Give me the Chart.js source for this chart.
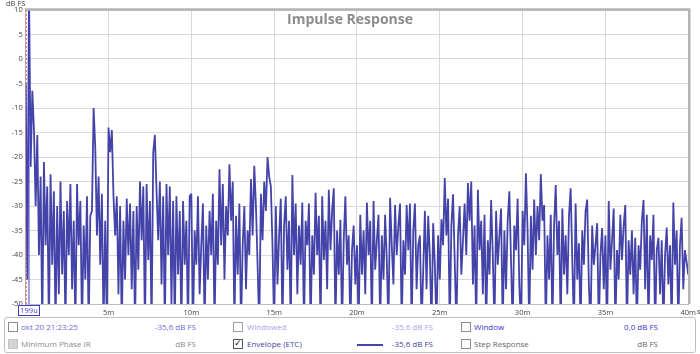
<!DOCTYPE html>
<html>
<head>
<meta charset="utf-8">
<script src="https://cdn.jsdelivr.net/npm/chart.js@4.4.1/dist/chart.umd.min.js"></script>
<style>
  html,body{margin:0;padding:0;background:#fff;}
  #wrap{position:relative;width:700px;height:354px;overflow:hidden;font-family:"Open Sans",sans-serif;}
  #c{position:absolute;left:0;top:0;}
  #panel{position:absolute;left:4px;top:317px;width:692px;height:36px;border:1px solid #bdbdbd;border-radius:3px;box-sizing:border-box;background:#fff;}
  .t{position:absolute;font-size:8px;line-height:10px;white-space:nowrap;}
  .cb{position:absolute;width:8px;height:8px;border:1px solid #8c8c8c;background:#fff;}
  .r{text-align:right;}
</style>
</head>
<body>
<div id="wrap">
<canvas id="c" width="700" height="354"></canvas>
<div id="panel">
  <div class="cb" style="left:3px;top:4px;"></div>
  <div class="t" style="left:16px;top:4px;color:#6b6bd6;">okt 20 21:23:25</div>
  <div class="t r" style="left:120px;width:71px;top:4px;color:#6b6bd6;">-35,6 dB FS</div>
  <div class="cb" style="left:228px;top:4px;border-color:#a0a0a0;"></div>
  <div class="t" style="left:242px;top:4px;color:#a4a4ea;">Windowed</div>
  <div class="t r" style="left:350px;width:78px;top:4px;color:#a4a4ea;">-35,6 dB FS</div>
  <div class="cb" style="left:456px;top:4px;"></div>
  <div class="t" style="left:469px;top:4px;color:#3434c8;">Window</div>
  <div class="t r" style="left:590px;width:63px;top:4px;color:#3434c8;">0,0 dB FS</div>

  <div class="cb" style="left:3px;top:21px;background:#d4d4d4;border-color:#c4c4c4;"></div>
  <div class="t" style="left:16px;top:21px;color:#8a8a8a;">Minimum Phase IR</div>
  <div class="t r" style="left:120px;width:71px;top:21px;color:#8a8a8a;">dB FS</div>
  <div class="cb" style="left:228px;top:21px;border-color:#555;"><span style="position:absolute;left:0px;top:-3px;font-size:9px;line-height:12px;color:#111;">✓</span></div>
  <div class="t" style="left:242px;top:21px;color:#4343a6;">Envelope (ETC)</div>
  <div style="position:absolute;left:352px;top:26px;width:26px;height:1.5px;background:#4444aa;"></div>
  <div class="t r" style="left:350px;width:78px;top:21px;color:#4343a6;">-35,6 dB FS</div>
  <div class="cb" style="left:456px;top:21px;"></div>
  <div class="t" style="left:469px;top:21px;color:#666;">Step Response</div>
  <div class="t r" style="left:590px;width:63px;top:21px;color:#666;">dB FS</div>
</div>
</div>
<script>
// Time axis (ms) and tick definitions
const timeStepMs = 0.1;
const xTicksMs = [0, 5, 10, 15, 20, 25, 30, 35, 40];
const yTicksDb = [10, 5, 0, -5, -10, -15, -20, -25, -30, -35, -40, -45, -50];
const cursorMs = 0.199;

// ETC envelope values (dB FS), 0.1 ms apart
const etc0to10 = [
  -5, -45, 14, -22, -6.5, -14.5, -30, -15.5, -40, -24, -55, -21, -38, -26, -55, -23.5, -42, -27, -55, -30,
  -48, -25, -44, -31, -55, -29, -40, -25.5, -47, -33, -55, -25.5, -38, -29, -55, -34, -45, -28, -55, -32,
  -31, -10, -18, -36, -24, -42, -27.5, -55, -33, -55, -14, -19, -14.5, -28, -36, -28, -48, -30, -55, -33,
  -45, -28.5, -40, -29.5, -47, -31, -55, -30, -43, -25, -37, -26, -55, -25.5, -41, -29, -55, -19, -15.5, -27,
  -37, -25, -46, -28, -55, -25.5, -40, -26, -50, -29, -55, -28, -44, -31, -55, -29, -42, -33, -55, -28
];
const etc10to20 = [
  -27.5, -55, -35, -42, -28, -48, -38, -29.5, -55, -34, -45, -31, -40, -27.5, -55, -33, -42, -22.5, -38, -25.5,
  -45, -30, -36, -21.5, -33, -25, -55, -32, -44, -29.5, -55, -38, -30, -47, -35, -40, -24.5, -36, -21.8, -30,
  -42, -55, -27.5, -37, -25, -31, -20, -24, -26, -38, -55, -30, -46, -36, -28.5, -55, -34, -28, -43, -33,
  -55, -23.7, -40, -29.5, -48, -34, -42, -29.3, -55, -33, -38, -29.5, -55, -36, -44, -27.3, -40, -32, -55, -28,
  -41, -33, -47, -26.7, -39, -31, -26.4, -55, -35, -44, -32.8, -55, -37, -28, -42, -36, -55, -39, -34, -46
];
const etc20to30 = [
  -38, -55, -31.8, -44, -35, -48, -29.3, -40, -33, -55, -29, -43, -37, -31.8, -55, -36, -45, -31.8, -41, -55,
  -28.3, -38, -46, -29.8, -40, -34, -29.5, -55, -37, -44, -29.8, -39, -29.5, -55, -35, -29.5, -47, -38, -36, -55,
  -43, -31, -47, -32, -40, -55, -33.5, -42, -55, -36, -45, -32.7, -38, -24.3, -36, -28.5, -55, -34, -27.6, -41,
  -55, -36, -30, -44, -37, -29.5, -40, -25.3, -33, -25, -46, -34, -55, -26.7, -39, -33, -48, -31.8, -55, -37,
  -44, -28.8, -40, -55, -31, -42, -36, -30.5, -55, -35, -47, -33, -27, -41, -55, -34, -39, -28.5, -46, -55
];
const etc30to40 = [
  -31, -38, -23.3, -35, -55, -32, -43, -28.7, -40, -30, -37, -23.5, -33, -29.8, -55, -36, -45, -31.8, -55, -34,
  -25.7, -40, -33, -55, -30.5, -44, -36, -48, -32, -26.4, -41, -55, -29.5, -45, -37.6, -55, -35, -42, -31, -28.7,
  -46, -55, -34, -42, -38, -33.5, -55, -40, -34.5, -47, -36, -55, -29, -43, -37, -30.5, -55, -39, -45, -31.8,
  -41, -34, -29.8, -55, -37, -44, -35, -48, -36.5, -55, -38, -43, -33, -28.8, -47, -31.8, -55, -36, -41, -31.8,
  -55, -39, -36.5, -48, -37, -55, -40, -34.4, -46, -38, -55, -29.3, -42, -35, -55, -38, -32.4, -47, -39, -41.4, -44
];

const etcDb = [].concat(etc0to10, etc10to20, etc20to30, etc30to40);
const etcPoints = etcDb.map((v, i) => ({x: +(i * timeStepMs).toFixed(2), y: v}));

const frame = {
  id: 'frame',
  afterDraw(chart) {
    const {ctx, chartArea: a, scales} = chart;
    ctx.save();
    // top and right frame
    ctx.strokeStyle = '#b4b4b4';
    ctx.lineWidth = 2.5;
    ctx.beginPath();
    ctx.moveTo(a.left - 1, a.top - 0.5);
    ctx.lineTo(a.right + 1, a.top - 0.5);
    ctx.lineTo(a.right + 1, a.bottom);
    ctx.stroke();
    // title
    ctx.fillStyle = '#8c8c8c';
    ctx.font = 'bold 14px "Open Sans", sans-serif';
    ctx.textAlign = 'center';
    ctx.textBaseline = 'alphabetic';
    ctx.fillText('Impulse Response', 350, 24);
    // axis unit labels
    ctx.fillStyle = '#444';
    ctx.font = '7.5px "Open Sans", sans-serif';
    ctx.textAlign = 'left';
    ctx.textBaseline = 'middle';
    ctx.fillText('dB FS', 6, 4);
    ctx.fillText('s', 697, 312);
    // cursor label box
    const cx = scales.x.getPixelForValue(cursorMs);
    ctx.strokeStyle = '#3c3cc8';
    ctx.lineWidth = 1;
    ctx.fillStyle = '#fff';
    ctx.fillRect(cx - 11, 305.5, 22, 10);
    ctx.strokeRect(cx - 10.5, 305.5, 21, 10);
    ctx.fillStyle = '#3c3cc8';
    ctx.textAlign = 'center';
    ctx.font = '7.5px "Open Sans", sans-serif';
    ctx.fillText('199u', cx, 311);
    ctx.restore();
  }
};

new Chart(document.getElementById('c'), {
  type: 'line',
  data: {
    datasets: [
      {
        label: 'Envelope (ETC)',
        data: etcPoints,
        borderColor: '#4343a9',
        borderWidth: 1.8,
        borderJoinStyle: 'bevel',
        pointRadius: 0,
        tension: 0,
        order: 1
      },
      {
        label: 'window',
        data: [{x: 0.03, y: -50}, {x: 0.03, y: 10}],
        borderColor: '#d05050',
        borderDash: [2, 2],
        borderWidth: 1,
        pointRadius: 0,
        order: 2
      },
      {
        label: 'cursor',
        data: [{x: cursorMs, y: -50}, {x: cursorMs, y: 10}],
        borderColor: '#4040c0',
        borderWidth: 1,
        pointRadius: 0,
        order: 0
      }
    ]
  },
  options: {
    responsive: false,
    animation: false,
    devicePixelRatio: 1,
    layout: {padding: {left: 0, right: 11.5, top: 10, bottom: 0}},
    plugins: {legend: {display: false}, tooltip: {enabled: false}, title: {display: false}},
    scales: {
      x: {
        type: 'linear',
        min: 0, max: 40,
        afterBuildTicks: s => { s.ticks = xTicksMs.map(v => ({value: v})); },
        afterFit: s => { s.height = 50; },
        grid: {color: '#d9d9d9', lineWidth: 1, drawTicks: false},
        border: {display: true, color: '#bdbdbd'},
        ticks: {
          padding: 4,
          color: '#444',
          font: {family: '"Open Sans", sans-serif', size: 7.5},
          maxRotation: 0,
          callback: v => (v === 0 ? '' : v + 'm')
        }
      },
      y: {
        min: -50, max: 10,
        afterBuildTicks: s => { s.ticks = yTicksDb.map(v => ({value: v})); },
        afterFit: s => { s.width = 25.7; },
        grid: {color: '#d9d9d9', lineWidth: 1, drawTicks: false},
        border: {display: true, color: '#c8a0a0'},
        ticks: {
          padding: 3,
          color: '#444',
          font: {family: '"Open Sans", sans-serif', size: 7.5}
        }
      }
    }
  },
  plugins: [frame]
});
</script>
</body>
</html>
